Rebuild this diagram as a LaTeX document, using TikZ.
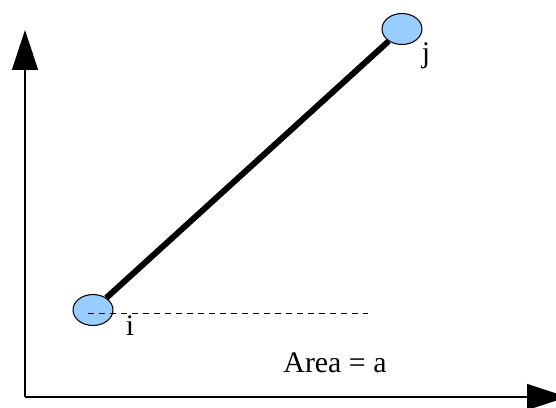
\documentclass[tikz,border=0pt]{standalone}
\usepackage{fontspec}
\setmainfont{Liberation Serif}
\usetikzlibrary{arrows.meta,shapes.geometric}
\definecolor{nodeblue}{HTML}{99CCFF}
\tikzset{
  axis line/.style={line width=1.5*0.02cm,-{Triangle[length=0.8cm,width=0.52cm]}},
  end node/.style={ellipse,draw,fill=nodeblue,line width=0.6pt,minimum width=0.8cm,minimum height=0.62cm,inner sep=0pt},
  bar edge/.style={line width=6*0.02cm},
  level line/.style={dashed,dash pattern=on 6*0.02cm off 5*0.02cm,line width=0.5pt},
  label text/.style={font=\fontsize{17}{20}\selectfont,inner sep=0pt,anchor=base},
}
\begin{document}
\begin{tikzpicture}[x=0.02cm,y=-0.02cm]
  \useasboundingbox (0,0) rectangle (556,407);
  \begin{scope}
    \clip (0,0) rectangle (556,407);
    \coordinate (o) at (25,397);
    \coordinate (ytop) at (25,30);
    \coordinate (xend) at (567,397);
    \draw[axis line] (o) -- (ytop);
    \draw[axis line] (o) -- (xend);
  \end{scope}
  \node[end node] (ni) at (93,310) {};
  \node[end node] (nj) at (402,29) {};
  \draw[bar edge] (ni) -- (nj);
  \coordinate (dashL) at (88,313);
  \coordinate (dashR) at (368,313);
  \draw[level line] (dashL) -- (dashR);
  \node[label text] (li) at (130,335) {i};
  \node[label text] (lj) at (426,62) {j};
  \node[label text] (area) at (335,372) {Area = a};
\end{tikzpicture}
\end{document}
